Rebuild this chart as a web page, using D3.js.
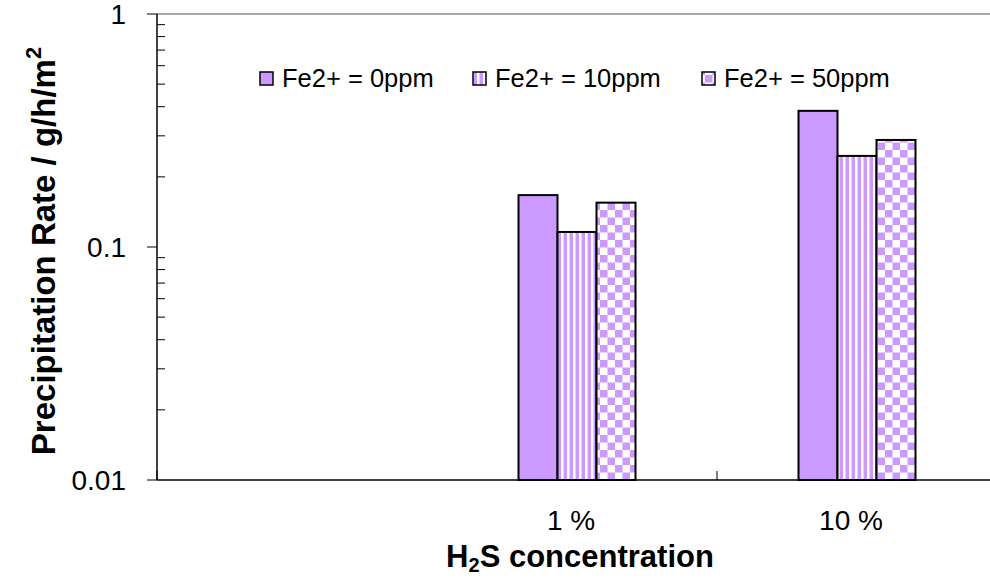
<!DOCTYPE html>
<html><head><meta charset="utf-8">
<script src="https://cdn.jsdelivr.net/npm/d3@7"></script>
<style>body{margin:0;background:#fff;} svg{display:block;font-family:"Liberation Sans",Arial,sans-serif;}</style>
</head><body>
<svg id="c" width="990" height="579"></svg>
<script>
const categories = ["", "1 %", "10 %"];
const seriesNames = ["Fe2+ = 0ppm", "Fe2+ = 10ppm", "Fe2+ = 50ppm"];
const fe0 = [null, 0.167, 0.384];
const fe10 = [null, 0.116, 0.246];
const fe50 = [null, 0.155, 0.288];
const yTickLabels = ["0.01", "0.1", "1"];
const yTickValues = [0.01, 0.1, 1];

(function(){
const svg = d3.select("#c");
const pL = 157, pR = 997, pT = 14, pB = 480;
const purple = "#CC99FF";

const defs = svg.append("defs");
const stripe = defs.append("pattern").attr("id","stripe").attr("patternUnits","userSpaceOnUse").attr("width",6).attr("height",6);
stripe.append("rect").attr("width",6).attr("height",6).attr("fill",purple);
stripe.append("rect").attr("x",3).attr("width",2).attr("height",6).attr("fill","#fff");
stripe.append("rect").attr("x",5).attr("width",1).attr("height",6).attr("fill","#e6ccff");
const check = defs.append("pattern").attr("id","check").attr("patternUnits","userSpaceOnUse").attr("width",15).attr("height",15);
check.append("rect").attr("width",15).attr("height",15).attr("fill","#fff");
check.append("rect").attr("width",7.5).attr("height",7.5).attr("fill",purple);
check.append("rect").attr("x",7.5).attr("y",7.5).attr("width",7.5).attr("height",7.5).attr("fill",purple);
const fills = [purple, "url(#stripe)", "url(#check)"];

const x = d3.scaleBand().domain(d3.range(categories.length)).range([pL, pR]);
const y = d3.scaleLog().domain([0.01, 1]).range([pB, pT]);
const barW = 39;

svg.append("line").attr("x1",pL).attr("x2",990).attr("y1",pT).attr("y2",pT).attr("stroke","#888").attr("stroke-width",1.5);

const series = [fe0, fe10, fe50];
series.forEach((vals, si) => {
  svg.append("g").selectAll("rect").data(vals.map((v,i)=>({v,i})).filter(d=>d.v!=null)).join("rect")
    .attr("x", d => x(d.i) + x.bandwidth()/2 - 1.5*barW + si*barW)
    .attr("y", d => y(d.v))
    .attr("width", barW)
    .attr("height", d => pB - y(d.v))
    .attr("fill", fills[si])
    .attr("stroke", "#000").attr("stroke-width", 2);
});

const minor = [];
[0.01,0.1].forEach(b => { for (let k=2;k<=9;k++) minor.push(b*k); });
svg.append("g").selectAll("line").data(minor).join("line")
  .attr("x1", pL).attr("x2", pL+8).attr("y1", d=>y(d)).attr("y2", d=>y(d)).attr("stroke","#000");
svg.append("g").selectAll("line").data(yTickValues).join("line")
  .attr("x1", pL-10).attr("x2", pL).attr("y1", d=>y(d)).attr("y2", d=>y(d)).attr("stroke","#000");
svg.append("line").attr("x1",pL).attr("x2",pL).attr("y1",pT).attr("y2",pB).attr("stroke","#000").attr("stroke-width",1.5);
svg.append("g").selectAll("text").data(yTickValues).join("text")
  .attr("x", 126).attr("y", d=>y(d)).attr("dy","0.36em").attr("text-anchor","end")
  .attr("font-size",28).text((d,i)=>yTickLabels[i]);

svg.append("line").attr("x1",pL).attr("x2",990).attr("y1",pB).attr("y2",pB).attr("stroke","#000").attr("stroke-width",1.5);
[0,2].forEach(i => {
  svg.append("line").attr("x1",x(i)).attr("x2",x(i)).attr("y1",pB).attr("y2",pB-9).attr("stroke","#000");
});
svg.append("g").selectAll("text").data(categories).join("text")
  .attr("x",(d,i)=>x(i)+x.bandwidth()/2 - 6).attr("y",530).attr("text-anchor","middle").attr("font-size",28).text(d=>d);

const xt = svg.append("text").attr("x",580).attr("y",567).attr("text-anchor","middle").attr("font-size",31).attr("font-weight","bold");
xt.append("tspan").text("H");
xt.append("tspan").attr("font-size",20).attr("dy",5).text("2");
xt.append("tspan").attr("dy",-5).text("S concentration");

const yt = svg.append("text").attr("transform","translate(55,251) rotate(-90)").attr("text-anchor","middle").attr("font-size",33).attr("font-weight","bold");
yt.append("tspan").text("Precipitation Rate / g/h/m");
yt.append("tspan").attr("font-size",22).attr("dy",-14).text("2");

const legX = [260, 473, 702];
seriesNames.forEach((n,i) => {
  svg.append("rect").attr("x",legX[i]).attr("y",72).attr("width",13).attr("height",13).attr("fill",fills[i]).attr("stroke","#000").attr("stroke-width",1.5);
  svg.append("text").attr("x",legX[i]+22).attr("y",87).attr("font-size",25.5).text(n);
});
})();
</script>
</body></html>
